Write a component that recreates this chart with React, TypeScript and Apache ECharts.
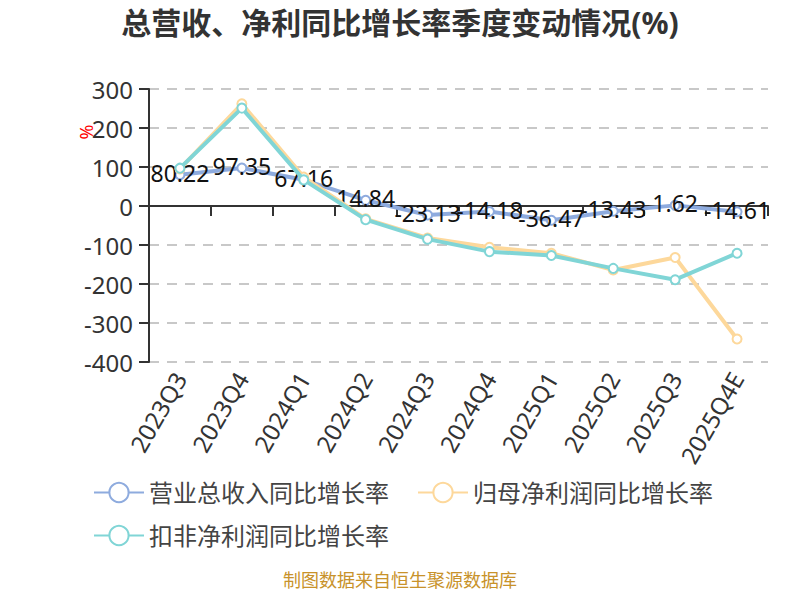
import React, { useEffect, useRef } from "react";
import * as echarts from "echarts";

const quarters = ["2023Q3", "2023Q4", "2024Q1", "2024Q2", "2024Q3", "2024Q4", "2025Q1", "2025Q2", "2025Q3", "2025Q4E"];
const revenueGrowth = [80.22, 97.35, 67.16, 14.84, -23.13, -14.18, -36.47, -13.43, 1.62, -14.61];
const netProfitGrowth = [95, 262, 74, -33, -82, -106, -121, -164, -132, -341];
const deductedProfitGrowth = [97, 251, 67, -35, -85, -117, -127, -160, -189, -121];
const seriesNames = ["营业总收入同比增长率", "归母净利润同比增长率", "扣非净利润同比增长率"];
const seriesColors = ["#8eabde", "#fdd89b", "#80d5d6"];

const FONT = "'Noto Sans', 'Noto Sans CJK SC', sans-serif";

export default function App() {
  const chartRef = useRef<HTMLDivElement>(null);

  useEffect(() => {
    if (!chartRef.current) return;
    const chart = echarts.init(chartRef.current, undefined, { renderer: "svg" });

    const makeSeries = (i: number, data: number[], withLabel: boolean) => ({
      name: seriesNames[i],
      type: "line",
      data,
      symbol: "emptyCircle",
      symbolSize: 9,
      lineStyle: { width: 4, color: seriesColors[i] },
      itemStyle: { color: seriesColors[i], borderWidth: 2 },
      z: 2 + i,
      label: withLabel
        ? {
            show: true,
            position: "inside",
            offset: [0, -2],
            color: "#111",
            fontSize: 23,
            fontFamily: FONT,
          }
        : { show: false },
    });

    chart.setOption({
      animation: false,
      textStyle: { fontFamily: FONT },
      title: {
        text: "总营收、净利同比增长率季度变动情况(%)",
        left: "center",
        top: 2,
        textStyle: { fontSize: 30, fontWeight: "bold", color: "#333", fontFamily: FONT },
      },
      grid: { left: 149, right: 32, top: 89, bottom: 238 },
      legend: {
        data: seriesNames,
        left: 88,
        top: 473,
        width: 640,
        itemWidth: 50,
        itemHeight: 24,
        itemGap: 14,
        textStyle: { fontSize: 24, color: "#444", fontFamily: FONT, lineHeight: 29, padding: [0, 14, 0, 0] },
      },
      xAxis: [
        {
          type: "category",
          data: quarters,
          axisLine: { onZero: true, lineStyle: { color: "#333", width: 2 } },
          axisTick: { show: true, interval: 0, length: 10, lineStyle: { color: "#333", width: 2 } },
          axisLabel: { show: false, interval: 0 },
        },
        {
          type: "category",
          data: quarters,
          position: "bottom",
          axisLine: { show: false, onZero: false },
          axisTick: { show: false },
          axisLabel: { rotate: 60, fontSize: 24, color: "#333", margin: 12, interval: 0 },
        },
      ],
      yAxis: {
        type: "value",
        min: -400,
        max: 300,
        interval: 100,
        axisLine: { show: true, lineStyle: { color: "#333", width: 2 } },
        axisTick: { show: true, length: 10, lineStyle: { color: "#333", width: 2 } },
        axisLabel: { fontSize: 24, color: "#333", margin: 16 },
        splitLine: { lineStyle: { type: [10, 8], color: "#c8c8c8", width: 2 } },
      },
      graphic: [
        {
          type: "text",
          x: 86,
          y: 132,
          rotation: Math.PI / 2,
          style: { text: "%", fill: "#ff0000", fontSize: 18, align: "center", verticalAlign: "middle", fontFamily: FONT },
        },
        {
          type: "text",
          x: 400,
          y: 580,
          style: { text: "制图数据来自恒生聚源数据库", fill: "#c8922a", fontSize: 18, align: "center", verticalAlign: "middle", fontFamily: FONT },
        },
      ],
      series: [
        makeSeries(0, revenueGrowth, true),
        makeSeries(1, netProfitGrowth, false),
        makeSeries(2, deductedProfitGrowth, false),
      ],
    });

    return () => chart.dispose();
  }, []);

  return <div ref={chartRef} style={{ width: 800, height: 600, margin: -8 }} />;
}
